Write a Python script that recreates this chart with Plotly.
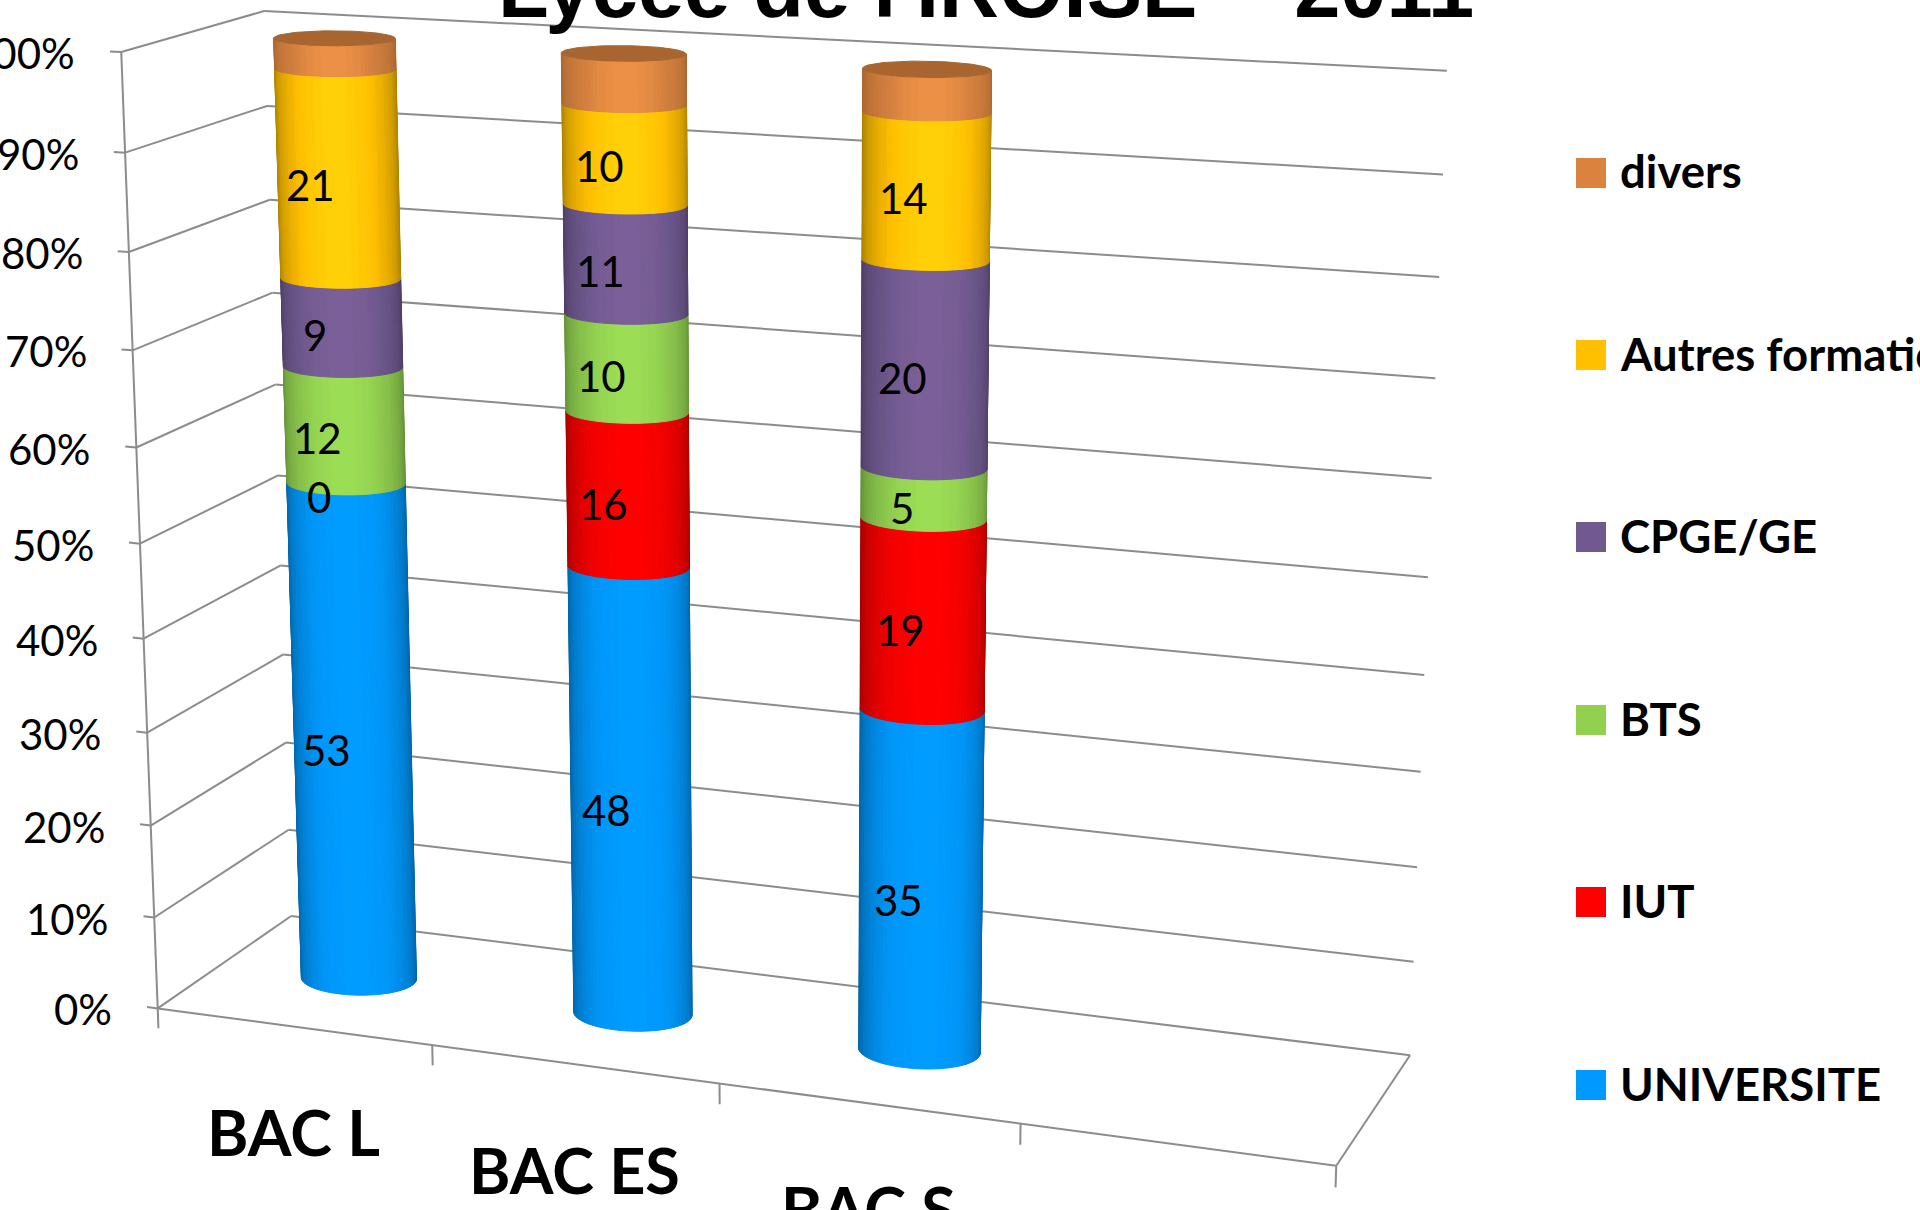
import numpy as np
import plotly.graph_objects as go

CATEGORIES = ["BAC L", "BAC ES", "BAC S"]
N_SLOTS = 4  # the category axis keeps a fourth, empty slot
SERIES = ["UNIVERSITE", "IUT", "BTS", "CPGE/GE", "Autres formations", "divers"]
UNIVERSITE = [53, 48, 35]
IUT = [0, 16, 19]
BTS = [12, 10, 5]
CPGE = [9, 11, 20]
AUTRES = [21, 10, 14]
DIVERS = [3, 5, 4]
TICKS = list(range(0, 101, 10))
TITLE = "Lycée de l'IROISE  - 2011"
LEGEND_COLORS = ["#0099FF", "#FF0000", "#92D050", "#6F598F", "#FFC000", "#D9833E"]
SHADES = [("#005F9E", "#0094F5", "#009CFF"), ("#A00000", "#F00000", "#FF0000"), ("#5F8A35", "#8FCB4E", "#9BDD55"),
          ("#4A3A60", "#6F598F", "#7B5F98"), ("#A07A00", "#FFBE00", "#FFCF08"), ("#A5622E", "#D5813F", "#EC9045")]
CAP_COLOR = "#A8652F"
LABELLED = [True, True, True, True, True, False]
W, H = 1920, 1210

# Frame calibration of the perspective view: axis position -> page pixel
FRAME = [((0,0,100),(121.4,52)),((0,0,90),(125,152)),((0,0,80),(129,252)),((0,0,70),(133,350)),((0,0,60),(136.5,447)),
         ((0,0,20),(151,825)),((0,0,10),(155,917)),((0,0,0),(158,1008)),
         ((0,1,100),(263,11)),((0,1,90),(266,106)),((0,1,80),(269,200)),((0,1,70),(273,293)),((0,1,60),(275.5,385)),
         ((0,1,50),(280,476)),((0,1,0),(290,917)),
         ((4,1,100),(1446,71.5)),((4,1,90),(1443.7,175)),((4,1,80),(1439,277)),((4,1,70),(1436,378)),((4,1,60),(1432,478)),
         ((4,1,50),(1428,576)),((4,1,40),(1424,675)),((4,1,30),(1421,772)),((4,1,20),(1417,867)),((4,1,10),(1414,961)),
         ((4,1,0),(1410,1054)),
         ((1,0,0),(431.6,1046)),((2,0,0),(719,1083)),((3,0,0),(1021,1125)),((4,0,0),(1335,1167))]
FD = np.array([r[0] for r in FRAME], float)/[N_SLOTS, 1, 100]
FP = np.array([r[1] for r in FRAME], float)/1000
rows = []
for (a, b, c), (u, v) in zip(FD, FP):
    rows.append([a, b, c, 1, 0, 0, 0, 0, -u*a, -u*b, -u*c, -u])
    rows.append([0, 0, 0, 0, a, b, c, 1, -v*a, -v*b, -v*c, -v])
cam0 = np.linalg.svd(np.array(rows))[2][-1]
cam0 = cam0/cam0[11]
FH = np.c_[FD, np.ones(len(FD))]
def reproj(m):
    q = m.reshape(3, 4) @ FH.T
    return np.r_[q[0]/q[2]-FP[:, 0], q[1]/q[2]-FP[:, 1]]
free = list(range(11))
m = cam0.copy(); lam = 1e-4
r = reproj(m); cost = r@r
for _ in range(200):
    J = np.zeros((r.size, len(free)))
    for i, j in enumerate(free):
        d = m.copy(); d[j] += 1e-6; J[:, i] = (reproj(d)-r)/1e-6
    A = J.T@J
    s = np.linalg.solve(A+lam*np.diag(np.diag(A)+1e-9), -J.T@r)
    t = m.copy(); t[free] += s
    r2 = reproj(t); c2 = r2@r2
    if c2 < cost: m, r, cost = t, r2, c2; lam = max(lam/3, 1e-10)
    else: lam *= 4
CAM = m.reshape(3, 4)

def project(x, y, z):
    """Axis position (category axis, depth, percent) -> page pixels."""
    x, y, z = np.asarray(x, float), np.asarray(y, float), np.asarray(z, float)
    h = np.stack([x/N_SLOTS, y, z/100, np.ones_like(x*y*z)])
    q = CAM @ h
    return q[0]/q[2]*1000, q[1]/q[2]*1000

def hexrgb(c): return np.array([int(c[i:i+2], 16) for i in (1, 3, 5)], float)
def shade(stops, v):
    e, m_, b = [hexrgb(c) for c in stops]
    rgb = e+(m_-e)*v/0.82 if v < 0.82 else m_+(b-m_)*(v-0.82)/0.18
    return "rgb(%d,%d,%d)" % tuple(np.round(rgb))
def fx(x): return float(x)/W
def fy(y): return 1-float(y)/H

fig = go.Figure()
def add_lines(segs):
    xs, ys = [], []
    for a, b in segs:
        u, v = project(*zip(a, b))
        xs += [float(u[0]), float(u[1]), None]; ys += [float(v[0]), float(v[1]), None]
    fig.add_trace(go.Scatter(x=xs, y=ys, mode="lines", line=dict(color="#8C8C8C", width=2), hoverinfo="skip", showlegend=False))

segs = []
for t in TICKS:
    segs += [((0,0,t),(0,1,t)), ((0,1,t),(N_SLOTS,1,t)), ((0,0,t),(-0.04,0,t))]
segs += [((0,0,0),(N_SLOTS,0,0)), ((N_SLOTS,0,0),(N_SLOTS,1,0)), ((0,0,0),(0,0,100))]
for i in range(N_SLOTS+1):
    segs.append(((i,0,0),(i,0,-2.2)))
add_lines(segs)

vals = [UNIVERSITE, IUT, BTS, CPGE, AUTRES, DIVERS]
RX, RY = 0.2, 0.165
TH_VIEW = np.deg2rad(-70)
NSTRIP, NLEVEL = 48, 28
phi = np.linspace(-np.pi/2, np.pi/2, NSTRIP+1)
annots = []
buckets = {}
caps = []
for ic, cat in enumerate(CATEGORIES):
    total = sum(v[ic] for v in vals)
    base = 0.0
    xc, yc = ic+0.5, 0.5
    for s, v in enumerate(vals):
        top = base+v[ic]/total*100
        if v[ic] > 0:
            for k in range(NSTRIP):
                a0, a1 = TH_VIEW+phi[k], TH_VIEW+phi[k+1]
                level = int(round(np.cos((phi[k]+phi[k+1])/2)*NLEVEL))
                px, py = project([xc+RX*np.cos(a0), xc+RX*np.cos(a1), xc+RX*np.cos(a1), xc+RX*np.cos(a0), xc+RX*np.cos(a0)],
                                 [yc+RY*np.sin(a0), yc+RY*np.sin(a1), yc+RY*np.sin(a1), yc+RY*np.sin(a0), yc+RY*np.sin(a0)],
                                 [base, base, top, top, base])
                bx, by = buckets.setdefault((s, level), ([], []))
                bx += list(map(float, px))+[None]; by += list(map(float, py))+[None]
        if LABELLED[s]:
            lx, ly = project(xc, yc-RY, (base+top)/2)
            annots.append(dict(x=fx(lx-5), y=fy(ly+3), text=str(v[ic]), font=dict(family="Lato", size=42, color="black")))
        base = top
    th = np.linspace(0, 2*np.pi, 97)
    caps.append(project(xc+RX*np.cos(th), yc+RY*np.sin(th), np.full(97, 100.0)))
    lx, ly = project(xc, 0, 0)
    annots.append(dict(x=fx(lx), y=fy(ly+105), text="<b>%s</b>" % cat, font=dict(family="Lato", size=63, color="black")))

for (s, level) in sorted(buckets):
    bx, by = buckets[(s, level)]
    col = shade(SHADES[s], level/NLEVEL)
    fig.add_trace(go.Scatter(x=bx, y=by, mode="lines", fill="toself", fillcolor=col, line=dict(color=col, width=1),
                             hoverinfo="skip", showlegend=False))
for cxs, cys in caps:
    fig.add_trace(go.Scatter(x=cxs, y=cys, mode="lines", fill="toself", fillcolor=CAP_COLOR, line=dict(color=CAP_COLOR, width=1),
                             hoverinfo="skip", showlegend=False))

for t in TICKS:
    lx, ly = project(0, 0, t)
    annots.append(dict(x=fx(lx-44), y=fy(ly+1), text="%d%%" % t, xanchor="right", font=dict(family="Lato", size=42, color="black")))

annots.append(dict(x=fx(986), y=1, yshift=60, yanchor="top", text="<b>%s</b>" % TITLE,
                   font=dict(family="Liberation Sans", size=83, color="black")))
shapes = []
LEG_Y = [1085, 902, 720, 537, 355, 173]
for name, col, ly in zip(SERIES, LEGEND_COLORS, LEG_Y):
    shapes.append(dict(type="rect", xref="paper", yref="paper", x0=fx(1576), x1=fx(1606), y0=fy(ly-15), y1=fy(ly+15),
                       fillcolor=col, line=dict(width=0)))
    annots.append(dict(x=fx(1618), y=fy(ly-2), xanchor="left", text="<b>%s</b>" % name,
                       font=dict(family="Lato", size=45.5, color="black")))
for a in annots:
    a.update(xref="paper", yref="paper", showarrow=False)
    a.setdefault("yanchor", "middle"); a.setdefault("xanchor", "center")

fig.update_layout(width=W, height=H, margin=dict(l=0, r=0, t=0, b=0), showlegend=False,
                  paper_bgcolor="white", plot_bgcolor="white", annotations=annots, shapes=shapes,
                  xaxis=dict(visible=False, range=[0, W], domain=[0, 1]),
                  yaxis=dict(visible=False, range=[H, 0], domain=[0, 1]))
fig.write_html("out.html", config=dict(displayModeBar=False),
               post_script="document.documentElement.style.overflow='hidden';document.body.style.overflow='hidden';document.body.style.margin='0';")
